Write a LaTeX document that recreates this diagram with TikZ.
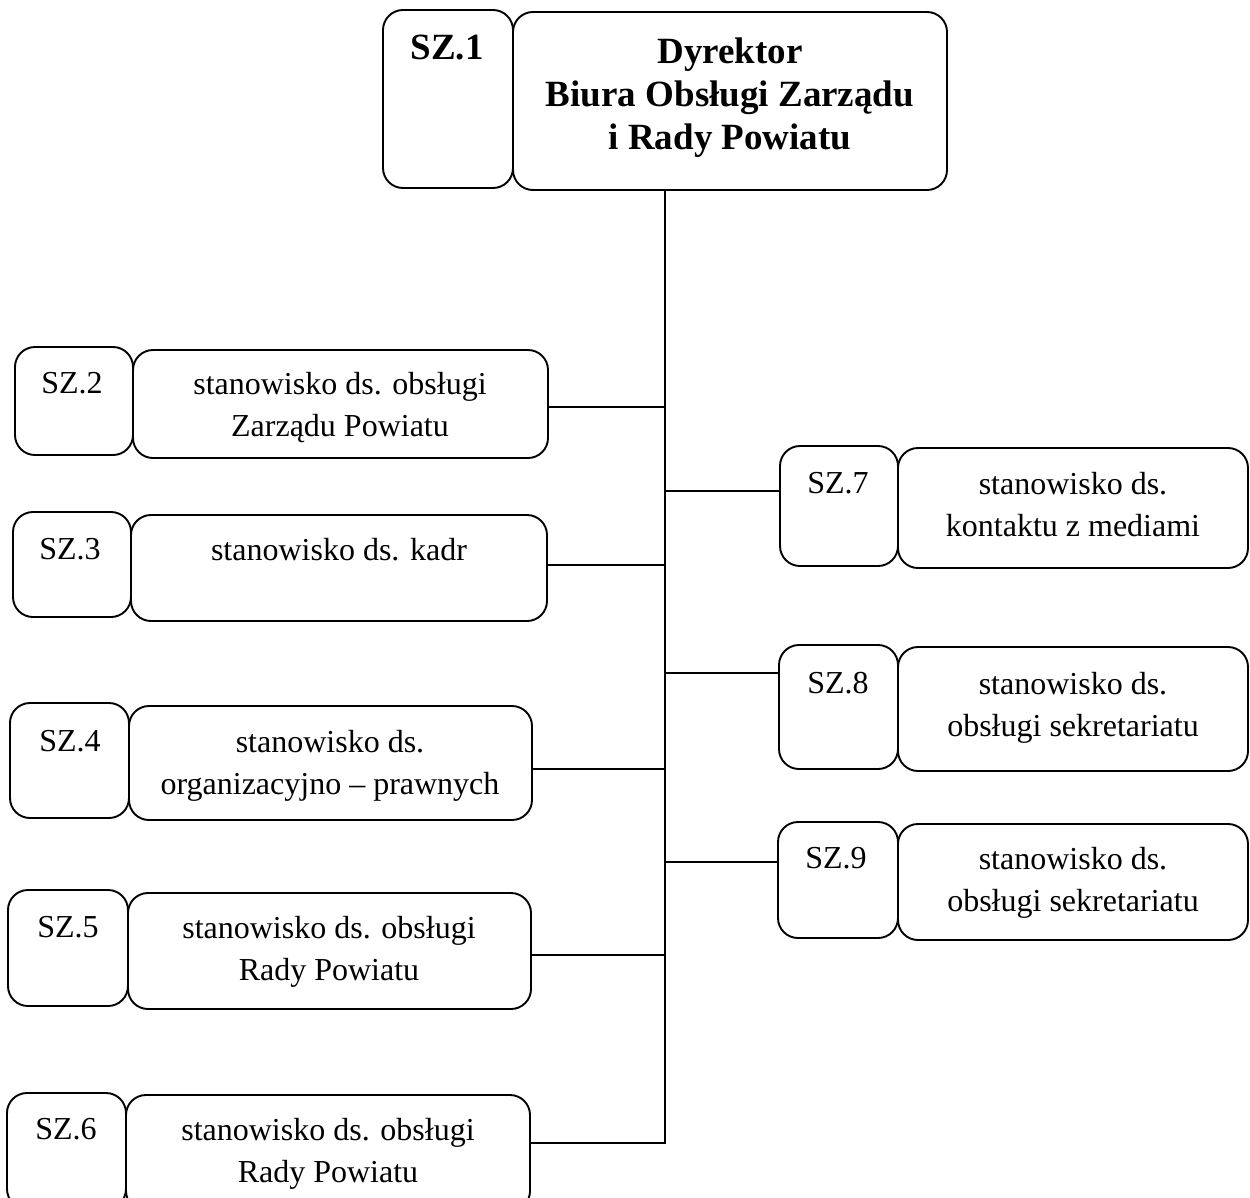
\documentclass[tikz,border=0pt]{standalone}
\usepackage{fontspec}
\setmainfont{Liberation Serif}
\begin{document}
\begin{tikzpicture}[x=1pt,y=-1pt,
  box/.style={draw, line width=1.9pt, rounded corners=20pt, inner sep=0pt, outer sep=0pt},
  txt/.style={font=\fontsize{32}{42}\selectfont, align=center, inner sep=0pt, anchor=north},
  btxt/.style={font=\fontsize{37}{43}\selectfont\bfseries, align=center, inner sep=0pt, anchor=north},
  link/.style={line width=1.9pt}]
\useasboundingbox (0,0) rectangle (1250,1197);
% top
\node[box, minimum width=130, minimum height=178] (s1) at (448,99) {};
\node[box, minimum width=434, minimum height=178] (b1) at (730,101) {};
\node[btxt] (l1) at (447,35) {SZ.1};
\node[btxt] (t1) at (730,38) {Dyrektor\\Biura Obsługi Zarządu\\i Rady Powiatu};
% left
\node[box, minimum width=118, minimum height=108] (s2) at (74,401) {};
\node[box, minimum width=415, minimum height=108] (b2) at (340.5,404) {};
\node[txt] (l2) at (72,372) {SZ.2};
\node[txt] (t2) at (340,372) {stanowisko ds. obsługi\\Zarządu Powiatu};
\node[box, minimum width=118, minimum height=105] (s3) at (72,564.5) {};
\node[box, minimum width=416, minimum height=106] (b3) at (339,568) {};
\node[txt] (l3) at (70,538) {SZ.3};
\node[txt] (t3) at (339,538) {stanowisko ds. kadr};
\node[box, minimum width=119, minimum height=115] (s4) at (69.5,760.5) {};
\node[box, minimum width=403, minimum height=114] (b4) at (330.5,763) {};
\node[txt] (l4) at (70,730) {SZ.4};
\node[txt] (t4) at (330,730) {stanowisko ds.\\organizacyjno – prawnych};
\node[box, minimum width=120, minimum height=116] (s5) at (68,948) {};
\node[box, minimum width=403, minimum height=116] (b5) at (329.5,951) {};
\node[txt] (l5) at (68,916) {SZ.5};
\node[txt] (t5) at (329,916) {stanowisko ds. obsługi\\Rady Powiatu};
\node[box, minimum width=119, minimum height=116] (s6) at (66.5,1151) {};
\node[box, minimum width=404, minimum height=116] (b6) at (328,1153) {};
\node[txt] (l6) at (66,1118) {SZ.6};
\node[txt] (t6) at (328,1118) {stanowisko ds. obsługi\\Rady Powiatu};
% right
\node[box, minimum width=118, minimum height=120] (s7) at (839,506) {};
\node[box, minimum width=350, minimum height=120] (b7) at (1073,508) {};
\node[txt] (l7) at (838,472) {SZ.7};
\node[txt] (t7) at (1073,472) {stanowisko ds.\\kontaktu z mediami};
\node[box, minimum width=119, minimum height=124] (s8) at (838.5,707) {};
\node[box, minimum width=350, minimum height=124] (b8) at (1073,709) {};
\node[txt] (l8) at (838,672) {SZ.8};
\node[txt] (t8) at (1073,672) {stanowisko ds.\\obsługi sekretariatu};
\node[box, minimum width=120, minimum height=116] (s9) at (838,880) {};
\node[box, minimum width=350, minimum height=116] (b9) at (1073,882) {};
\node[txt] (l9) at (836,847) {SZ.9};
\node[txt] (t9) at (1073,847) {stanowisko ds.\\obsługi sekretariatu};
% connectors
\coordinate (tx) at (665,0);
\coordinate (bot) at (665,1143);
\draw[link] (b1.south -| tx) -- (bot) -- (bot -| b6.east);
\coordinate (c2) at (665,407);
\coordinate (c3) at (665,565);
\coordinate (c4) at (665,769);
\coordinate (c5) at (665,955);
\coordinate (c7) at (665,491);
\coordinate (c8) at (665,673);
\coordinate (c9) at (665,862);
\draw[link] (b2.east |- c2) -- (c2);
\draw[link] (b3.east |- c3) -- (c3);
\draw[link] (b4.east |- c4) -- (c4);
\draw[link] (b5.east |- c5) -- (c5);
\draw[link] (c7) -- (c7 -| s7.west);
\draw[link] (c8) -- (c8 -| s8.west);
\draw[link] (c9) -- (c9 -| s9.west);
\end{tikzpicture}
\end{document}
